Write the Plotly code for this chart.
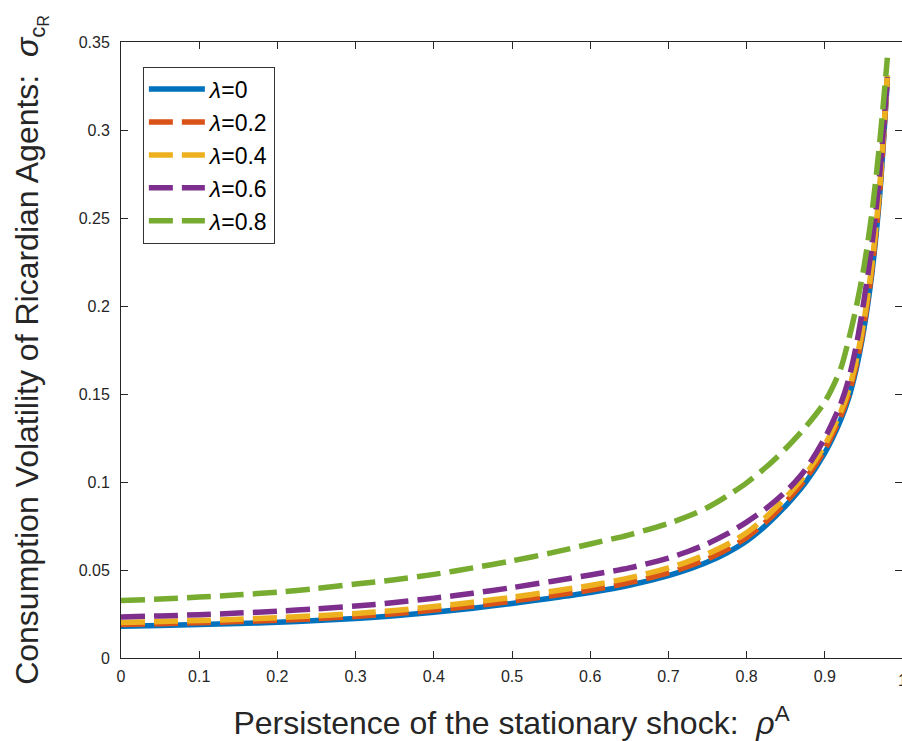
import plotly.graph_objects as go

rho = [0, 0.05, 0.1, 0.15, 0.2, 0.25, 0.3, 0.35, 0.4, 0.45, 0.5, 0.55, 0.6, 0.65,
       0.7, 0.725, 0.75, 0.775, 0.8, 0.825, 0.85, 0.875, 0.9, 0.92, 0.93, 0.94, 0.95,
       0.96, 0.97, 0.98]

lam0 = [0.0180, 0.0185, 0.0190, 0.0196, 0.0203, 0.0213, 0.0225, 0.0240, 0.0260, 0.0283,
        0.0310, 0.0340, 0.0372, 0.0413, 0.0468, 0.0503, 0.0545, 0.0598, 0.0665, 0.0755,
        0.0865, 0.0995, 0.1165, 0.1350, 0.1470, 0.1640, 0.1870, 0.2180, 0.2620, 0.3290]
lam2 = [0.0190, 0.0195, 0.0200, 0.0207, 0.0214, 0.0224, 0.0236, 0.0252, 0.0272, 0.0295,
        0.0323, 0.0354, 0.0386, 0.0428, 0.0484, 0.0520, 0.0563, 0.0617, 0.0685, 0.0775,
        0.0885, 0.1015, 0.1185, 0.1370, 0.1490, 0.1660, 0.1890, 0.2200, 0.2640, 0.3300]
lam4 = [0.0202, 0.0207, 0.0213, 0.0220, 0.0229, 0.0240, 0.0253, 0.0270, 0.0292, 0.0317,
        0.0345, 0.0378, 0.0412, 0.0455, 0.0512, 0.0548, 0.0592, 0.0645, 0.0712, 0.0802,
        0.0912, 0.1040, 0.1210, 0.1395, 0.1515, 0.1685, 0.1915, 0.2225, 0.2665, 0.3310]
lam6 = [0.0233, 0.0239, 0.0246, 0.0255, 0.0266, 0.0279, 0.0295, 0.0315, 0.0340, 0.0368,
        0.0400, 0.0435, 0.0472, 0.0512, 0.0568, 0.0605, 0.0650, 0.0705, 0.0772, 0.0850,
        0.0945, 0.1070, 0.1250, 0.1440, 0.1575, 0.1770, 0.2030, 0.2340, 0.2740, 0.3300]
lam8 = [0.0326, 0.0335, 0.0346, 0.0359, 0.0374, 0.0395, 0.0420, 0.0445, 0.0475, 0.0512,
        0.0552, 0.0597, 0.0648, 0.0700, 0.0765, 0.0805, 0.0855, 0.0920, 0.0995, 0.1085,
        0.1190, 0.1310, 0.1455, 0.1640, 0.1800, 0.1990, 0.2220, 0.2520, 0.2920, 0.3410]

names = ["<i>λ</i>=0", "<i>λ</i>=0.2", "<i>λ</i>=0.4", "<i>λ</i>=0.6", "<i>λ</i>=0.8"]
series = [lam0, lam2, lam4, lam6, lam8]
colors = ["#0072BD", "#D95319", "#EDB120", "#7E2F8E", "#77AC30"]
dashes = ["solid", "24px,9px", "24px,9px", "24px,9px", "24px,9px"]

x_ticks = [0, 0.1, 0.2, 0.3, 0.4, 0.5, 0.6, 0.7, 0.8, 0.9]
x_ticklabels = ["0", "0.1", "0.2", "0.3", "0.4", "0.5", "0.6", "0.7", "0.8", "0.9"]
y_ticks = [0, 0.05, 0.1, 0.15, 0.2, 0.25, 0.3, 0.35]
y_ticklabels = ["0", "0.05", "0.1", "0.15", "0.2", "0.25", "0.3", "0.35"]

FONT = "Liberation Sans, Arial, Helvetica, sans-serif"
AXC = "#262626"

fig = go.Figure()
for nm, ys, c, d in zip(names, series, colors, dashes):
    fig.add_trace(go.Scatter(
        x=rho, y=ys, mode="lines", name=nm,
        line=dict(color=c, width=5.5, dash=d, shape="spline", smoothing=0.8),
    ))

fig.update_layout(
    width=902, height=741,
    margin=dict(l=121, r=0, t=42, b=83),
    paper_bgcolor="white", plot_bgcolor="white",
    font=dict(family=FONT, color=AXC),
    showlegend=True,
    legend=dict(
        x=0.028, y=0.96, xanchor="left", yanchor="top",
        bgcolor="white", bordercolor="#333333", borderwidth=1,
        font=dict(size=23, color="black", family=FONT),
        tracegroupgap=0, itemwidth=56,
    ),
    xaxis=dict(
        range=[0, 0.9987], tickvals=x_ticks, ticktext=x_ticklabels,
        showgrid=False, zeroline=False, showline=True, linecolor=AXC, linewidth=1,
        mirror="ticks", ticks="inside", ticklen=7, tickcolor=AXC,
        ticklabelstandoff=4,
        tickfont=dict(size=16, color=AXC, family=FONT),
        title=dict(text="Persistence of the stationary shock:  <i>ρ</i><sup>A</sup>",
                   font=dict(size=32, color=AXC, family=FONT), standoff=30),
    ),
    yaxis=dict(
        range=[0, 0.35], tickvals=y_ticks, ticktext=y_ticklabels,
        showgrid=False, zeroline=False, showline=True, linecolor=AXC, linewidth=1,
        mirror="ticks", ticks="inside", ticklen=7, tickcolor=AXC,
        ticklabelstandoff=7,
        tickfont=dict(size=16, color=AXC, family=FONT),
        title=dict(text="Consumption Volatility of Ricardian Agents:  <i>σ</i><sub>c<sub>R</sub></sub>",
                   font=dict(size=32, color=AXC, family=FONT), standoff=30),
    ),
)

fig.add_annotation(x=(903 - 121) / 781, y=0, xref="paper", yref="paper", text="1",
                   showarrow=False, xanchor="center", yanchor="top", yshift=-12,
                   font=dict(size=16, color=AXC, family=FONT))

fig.write_html("out.html")
